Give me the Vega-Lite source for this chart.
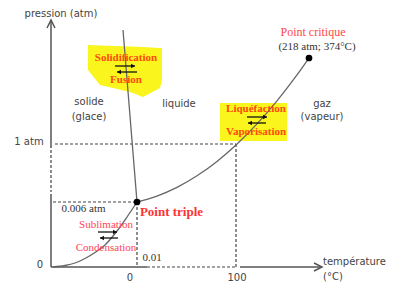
{
  "$schema": "https://vega.github.io/schema/vega-lite/v6.json",
  "width": 400,
  "height": 291,
  "padding": 0,
  "autosize": {"type": "fit", "contains": "padding"},
  "background": "white",
  "config": {"view": {"stroke": null}},
  "datasets": {
    "lines": [
      {"kind": "axis", "id": "ya1", "o": 1, "x": 0, "y": 247},
      {"kind": "axis", "id": "ya1", "o": 2, "x": 0, "y": 119},
      {"kind": "axis", "id": "ya2", "o": 1, "x": 0, "y": 73},
      {"kind": "axis", "id": "ya2", "o": 2, "x": 0, "y": 0},
      {"kind": "axis", "id": "xa1", "o": 1, "x": 0, "y": 0},
      {"kind": "axis", "id": "xa1", "o": 2, "x": 96, "y": 0},
      {"kind": "axis", "id": "xa2", "o": 1, "x": 189, "y": 0},
      {"kind": "axis", "id": "xa2", "o": 2, "x": 271, "y": 0},
      {"kind": "axis", "id": "yh", "o": 1, "x": -4, "y": 239},
      {"kind": "axis", "id": "yh", "o": 2, "x": 0, "y": 247},
      {"kind": "axis", "id": "yh", "o": 3, "x": 4, "y": 239},
      {"kind": "axis", "id": "xh", "o": 1, "x": 263, "y": 4},
      {"kind": "axis", "id": "xh", "o": 2, "x": 271, "y": 0},
      {"kind": "axis", "id": "xh", "o": 3, "x": 263, "y": -4},
      {"kind": "guide", "id": "g1", "o": 1, "x": 4, "y": 123},
      {"kind": "guide", "id": "g1", "o": 2, "x": 185, "y": 123},
      {"kind": "guide", "id": "g2", "o": 1, "x": 185, "y": 123},
      {"kind": "guide", "id": "g2", "o": 2, "x": 185, "y": 0},
      {"kind": "guide", "id": "g3", "o": 1, "x": 2, "y": 65},
      {"kind": "guide", "id": "g3", "o": 2, "x": 86, "y": 65},
      {"kind": "guide", "id": "g4", "o": 1, "x": 86, "y": 65},
      {"kind": "guide", "id": "g4", "o": 2, "x": 86, "y": 0},
      {"kind": "guide", "id": "yd", "o": 1, "x": 0, "y": 117},
      {"kind": "guide", "id": "yd", "o": 2, "x": 0, "y": 75},
      {"kind": "guide", "id": "xd", "o": 1, "x": 96, "y": 0},
      {"kind": "guide", "id": "xd", "o": 2, "x": 185, "y": 0},
      {"kind": "curve", "id": "fus", "o": 1, "x": 72, "y": 237},
      {"kind": "curve", "id": "fus", "o": 2, "x": 86, "y": 65},
      {"kind": "curve", "id": "sub", "o": 1, "x": 2, "y": 0},
      {"kind": "curve", "id": "sub", "o": 2, "x": 14, "y": 1.5},
      {"kind": "curve", "id": "sub", "o": 3, "x": 24, "y": 4},
      {"kind": "curve", "id": "sub", "o": 4, "x": 34, "y": 8.5},
      {"kind": "curve", "id": "sub", "o": 5, "x": 44, "y": 14.5},
      {"kind": "curve", "id": "sub", "o": 6, "x": 54, "y": 22},
      {"kind": "curve", "id": "sub", "o": 7, "x": 66, "y": 36},
      {"kind": "curve", "id": "sub", "o": 8, "x": 76, "y": 50},
      {"kind": "curve", "id": "sub", "o": 9, "x": 86, "y": 65},
      {"kind": "curve", "id": "vap", "o": 1, "x": 86, "y": 65},
      {"kind": "curve", "id": "vap", "o": 2, "x": 106, "y": 70.9},
      {"kind": "curve", "id": "vap", "o": 3, "x": 126, "y": 79.6},
      {"kind": "curve", "id": "vap", "o": 4, "x": 146, "y": 91.2},
      {"kind": "curve", "id": "vap", "o": 5, "x": 166, "y": 105.6},
      {"kind": "curve", "id": "vap", "o": 6, "x": 185, "y": 122},
      {"kind": "curve", "id": "vap", "o": 7, "x": 206, "y": 143.1},
      {"kind": "curve", "id": "vap", "o": 8, "x": 226, "y": 166.2},
      {"kind": "curve", "id": "vap", "o": 9, "x": 246, "y": 192.1},
      {"kind": "curve", "id": "vap", "o": 10, "x": 258, "y": 209}
    ],
    "hl1": [
      {"x": 37, "top": 222, "bot": 197},
      {"x": 49, "top": 221.5, "bot": 182},
      {"x": 79, "top": 220.5, "bot": 175},
      {"x": 92, "top": 220, "bot": 170},
      {"x": 109, "top": 219, "bot": 179},
      {"x": 111, "top": 219, "bot": 187}
    ],
    "hl2": [{"x": 169, "x2": 236, "y": 164, "y2": 126}],
    "arrows": [
      {"x": 64, "x2": 84, "y": 201, "head": 82, "dir": "right"},
      {"x": 66, "x2": 86, "y": 195, "head": 68, "dir": "left"},
      {"x": 196, "x2": 216, "y": 150, "head": 214, "dir": "right"},
      {"x": 197, "x2": 215, "y": 144, "head": 199, "dir": "left"},
      {"x": 47, "x2": 66, "y": 35, "head": 64, "dir": "right"},
      {"x": 49, "x2": 67, "y": 29, "head": 51, "dir": "left"}
    ],
    "points": [
      {"name": "triple", "x": 86, "y": 65},
      {"name": "critique", "x": 258, "y": 209}
    ],
    "texts": [
      {"g": "sans", "label": "pression (atm)", "x": 10, "y": 253},
      {"g": "sans", "label": "1 atm", "x": -22, "y": 125},
      {"g": "sans", "label": "0", "x": -11, "y": 2},
      {"g": "sans", "label": "0", "x": 79, "y": -11},
      {"g": "sans", "label": "100", "x": 186, "y": -11},
      {"g": "sans", "label": "solide", "x": 38, "y": 165},
      {"g": "sans", "label": "(glace)", "x": 38, "y": 150},
      {"g": "sans", "label": "liquide", "x": 128, "y": 163},
      {"g": "sans", "label": "gaz", "x": 271, "y": 163},
      {"g": "sans", "label": "(vapeur)", "x": 271, "y": 150},
      {"g": "sansleft", "label": "température", "x": 272, "y": 5},
      {"g": "sansleft", "label": "(°C)", "x": 272, "y": -10},
      {"g": "serifdark", "label": "(218 atm; 374°C)", "x": 266, "y": 220},
      {"g": "serifdark", "label": "0.006 atm", "x": 32.5, "y": 58},
      {"g": "serifdark", "label": "0.01", "x": 101, "y": 9},
      {"g": "critique", "label": "Point critique", "x": 262, "y": 235},
      {"g": "triple", "label": "Point triple", "x": 120.5, "y": 55},
      {"g": "serifred", "label": "Sublimation", "x": 55, "y": 42},
      {"g": "serifred", "label": "Condensation", "x": 55, "y": 19},
      {"g": "hl", "label": "Solidification", "x": 75, "y": 209},
      {"g": "hl", "label": "Fusion", "x": 75, "y": 187},
      {"g": "hl", "label": "Liquéfaction", "x": 205, "y": 158},
      {"g": "hl", "label": "Vaporisation", "x": 205, "y": 135}
    ]
  },
  "encoding": {
    "x": {"field": "x", "type": "quantitative", "scale": {"domain": [-51, 349], "nice": false, "zero": false}, "axis": null},
    "y": {"field": "y", "type": "quantitative", "scale": {"domain": [-24, 267], "nice": false, "zero": false}, "axis": null}
  },
  "layer": [
    {
      "data": {"name": "hl1"},
      "mark": {"type": "area", "color": "#fbf51e", "orient": "vertical"},
      "encoding": {
        "y": {"field": "top", "type": "quantitative"},
        "y2": {"field": "bot"}
      }
    },
    {
      "data": {"name": "hl2"},
      "mark": {"type": "rect", "color": "#fbf51e"},
      "encoding": {
        "x2": {"field": "x2"},
        "y2": {"field": "y2"}
      }
    },
    {
      "data": {"name": "lines"},
      "transform": [{"filter": "datum.kind === 'axis'"}],
      "mark": {"type": "line", "color": "#555555", "strokeWidth": 1.5},
      "encoding": {
        "detail": {"field": "id"},
        "order": {"field": "o", "type": "quantitative"}
      }
    },
    {
      "data": {"name": "lines"},
      "transform": [{"filter": "datum.kind === 'guide'"}],
      "mark": {"type": "line", "color": "#444444", "strokeWidth": 1.2, "strokeDash": [3, 2]},
      "encoding": {
        "detail": {"field": "id"},
        "order": {"field": "o", "type": "quantitative"}
      }
    },
    {
      "data": {"name": "lines"},
      "transform": [{"filter": "datum.kind === 'curve'"}],
      "mark": {"type": "line", "color": "#666666", "strokeWidth": 1.3, "interpolate": "monotone"},
      "encoding": {
        "detail": {"field": "id"},
        "order": {"field": "o", "type": "quantitative"}
      }
    },
    {
      "data": {"name": "arrows"},
      "mark": {"type": "rule", "color": "#111111", "strokeWidth": 1.3},
      "encoding": {
        "x2": {"field": "x2"}
      }
    },
    {
      "data": {"name": "arrows"},
      "mark": {"type": "point", "filled": true, "color": "#111111", "size": 22, "opacity": 1},
      "encoding": {
        "x": {"field": "head", "type": "quantitative"},
        "shape": {"field": "dir", "type": "nominal", "scale": {"domain": ["right", "left"], "range": ["triangle-right", "triangle-left"]}, "legend": null}
      }
    },
    {
      "data": {"name": "points"},
      "mark": {"type": "point", "filled": true, "color": "#000000", "size": 45, "opacity": 1}
    },
    {
      "data": {"name": "texts"},
      "transform": [{"filter": "datum.g === 'sans'"}],
      "mark": {"type": "text", "font": "DejaVu Sans", "fontSize": 10, "color": "#444444", "align": "center", "baseline": "middle"},
      "encoding": {"text": {"field": "label"}}
    },
    {
      "data": {"name": "texts"},
      "transform": [{"filter": "datum.g === 'sansleft'"}],
      "mark": {"type": "text", "font": "DejaVu Sans", "fontSize": 10, "color": "#444444", "align": "left", "baseline": "middle"},
      "encoding": {"text": {"field": "label"}}
    },
    {
      "data": {"name": "texts"},
      "transform": [{"filter": "datum.g === 'serifdark'"}],
      "mark": {"type": "text", "font": "Liberation Serif", "fontSize": 11, "color": "#333333", "align": "center", "baseline": "middle"},
      "encoding": {"text": {"field": "label"}}
    },
    {
      "data": {"name": "texts"},
      "transform": [{"filter": "datum.g === 'critique'"}],
      "mark": {"type": "text", "font": "Liberation Serif", "fontSize": 12, "color": "#ff4848", "align": "center", "baseline": "middle"},
      "encoding": {"text": {"field": "label"}}
    },
    {
      "data": {"name": "texts"},
      "transform": [{"filter": "datum.g === 'triple'"}],
      "mark": {"type": "text", "font": "Liberation Serif", "fontSize": 13, "fontWeight": "bold", "color": "#ff3333", "align": "center", "baseline": "middle"},
      "encoding": {"text": {"field": "label"}}
    },
    {
      "data": {"name": "texts"},
      "transform": [{"filter": "datum.g === 'serifred'"}],
      "mark": {"type": "text", "font": "Liberation Serif", "fontSize": 11, "color": "#ff4455", "align": "center", "baseline": "middle"},
      "encoding": {"text": {"field": "label"}}
    },
    {
      "data": {"name": "texts"},
      "transform": [{"filter": "datum.g === 'hl'"}],
      "mark": {"type": "text", "font": "Liberation Serif", "fontSize": 11, "fontWeight": "bold", "color": "#ff4a0a", "align": "center", "baseline": "middle"},
      "encoding": {"text": {"field": "label"}}
    }
  ]
}
